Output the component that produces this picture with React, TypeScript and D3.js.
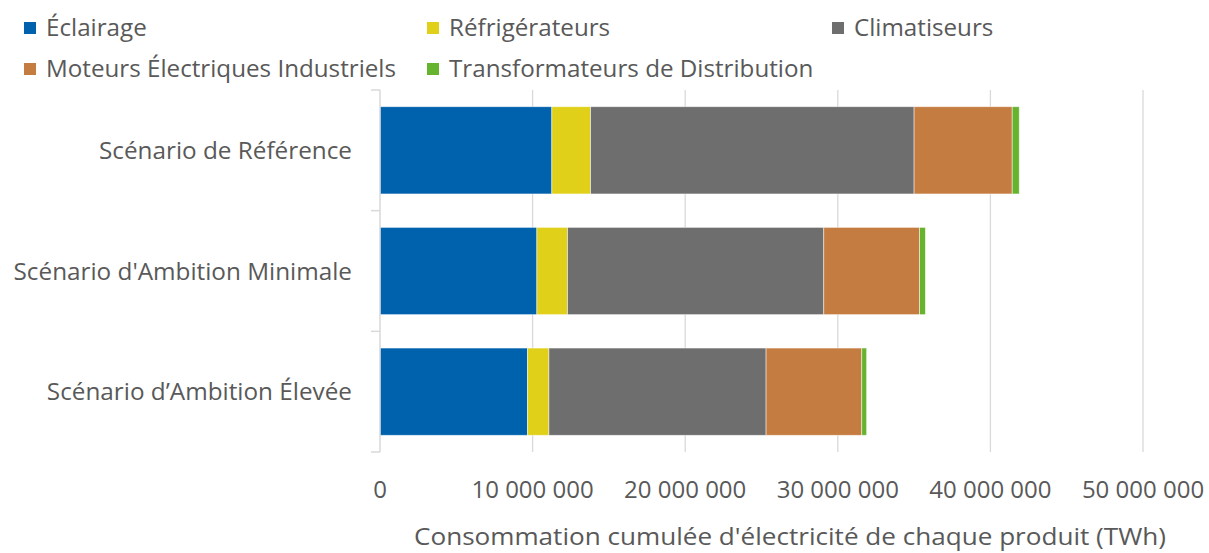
import React from "react";
import * as d3 from "d3";

const categories = ["Scénario de Référence", "Scénario d'Ambition Minimale", "Scénario d’Ambition Élevée"];
const seriesNames = ["Éclairage", "Réfrigérateurs", "Climatiseurs", "Moteurs Électriques Industriels", "Transformateurs de Distribution"];
const eclairage = [11260000, 10280000, 9670000];
const refrigerateurs = [2540000, 2010000, 1400000];
const climatiseurs = [21200000, 16790000, 14230000];
const moteurs = [6430000, 6280000, 6270000];
const transformateurs = [460000, 380000, 320000];
const xTicks = [0, 10000000, 20000000, 30000000, 40000000, 50000000];
const axisTitle = "Consommation cumulée d'électricité de chaque produit (TWh)";

const colors = ["#0062ad", "#e0d01a", "#6e6e6e", "#c57c40", "#66b32e"];
const FONT = "'Open Sans', sans-serif";
const TXT = "#595959";

export default function App() {
  const W = 1209, H = 553;
  const left = 380, right = 1143, top = 90, bottom = 452;
  const x = d3.scaleLinear().domain([0, 50000000]).range([left, right]);
  const y = d3.scaleBand<string>().domain(categories).range([top, bottom]).paddingInner(0.277).paddingOuter(0.1385);
  const rows = categories.map((c, i) => ({
    cat: c,
    vals: [eclairage[i], refrigerateurs[i], climatiseurs[i], moteurs[i], transformateurs[i]],
  }));
  const stack = d3.stack<any>().keys(["0", "1", "2", "3", "4"]).value((d, k) => d.vals[+k]);
  const stacked = stack(rows);
  const fmt = (v: number) => (v === 0 ? "0" : d3.format(",")(v).replace(/,/g, " "));
  const legend = [
    { x: 24, y: 28 }, { x: 427, y: 28 }, { x: 832, y: 28 },
    { x: 24, y: 69 }, { x: 427, y: 69 },
  ];
  const band = y.step();
  return (
    <svg width={W} height={H} style={{ position: "absolute", left: 0, top: 0, background: "#fff" }} fontFamily={FONT}>
      {xTicks.slice(1).map((t) => (
        <line key={t} x1={x(t)} x2={x(t)} y1={top} y2={bottom} stroke="#d9d9d9" strokeWidth={1.3} />
      ))}
      {stacked.map((s, si) =>
        s.map((d, i) => (
          <rect key={si + "-" + i} x={x(d[0])} y={y(rows[i].cat)!} width={x(d[1]) - x(d[0])} height={y.bandwidth()}
            fill={colors[si]} stroke="#ffffff" strokeOpacity={0.6} strokeWidth={0.8} />
        ))
      )}
      <line x1={left} x2={left} y1={top} y2={bottom} stroke="#d9d9d9" strokeWidth={1.5} />
      {d3.range(categories.length + 1).map((i) => (
        <line key={i} x1={left - 9} x2={left} y1={top + i * band} y2={top + i * band} stroke="#d9d9d9" strokeWidth={1.5} />
      ))}
      {categories.map((c) => (
        <text key={c} x={352} y={y(c)! + y.bandwidth() / 2} dy="0.35em" textAnchor="end" fontSize={24.3} fill={TXT}>{c}</text>
      ))}
      {xTicks.map((t) => (
        <text key={t} x={x(t)} y={490} dy="0.35em" textAnchor="middle" fontSize={24} fill={TXT}>{fmt(t)}</text>
      ))}
      <text x={790} y={536} dy="0.35em" textAnchor="middle" fontSize={24.5} textLength={752} lengthAdjust="spacingAndGlyphs" fill={TXT}>{axisTitle}</text>
      {seriesNames.map((n, i) => (
        <g key={n}>
          <rect x={legend[i].x} y={legend[i].y - 6} width={12} height={12} fill={colors[i]} />
          <text x={legend[i].x + 22} y={legend[i].y} dy="0.35em" fontSize={24.2} fill={TXT}>{n}</text>
        </g>
      ))}
    </svg>
  );
}
